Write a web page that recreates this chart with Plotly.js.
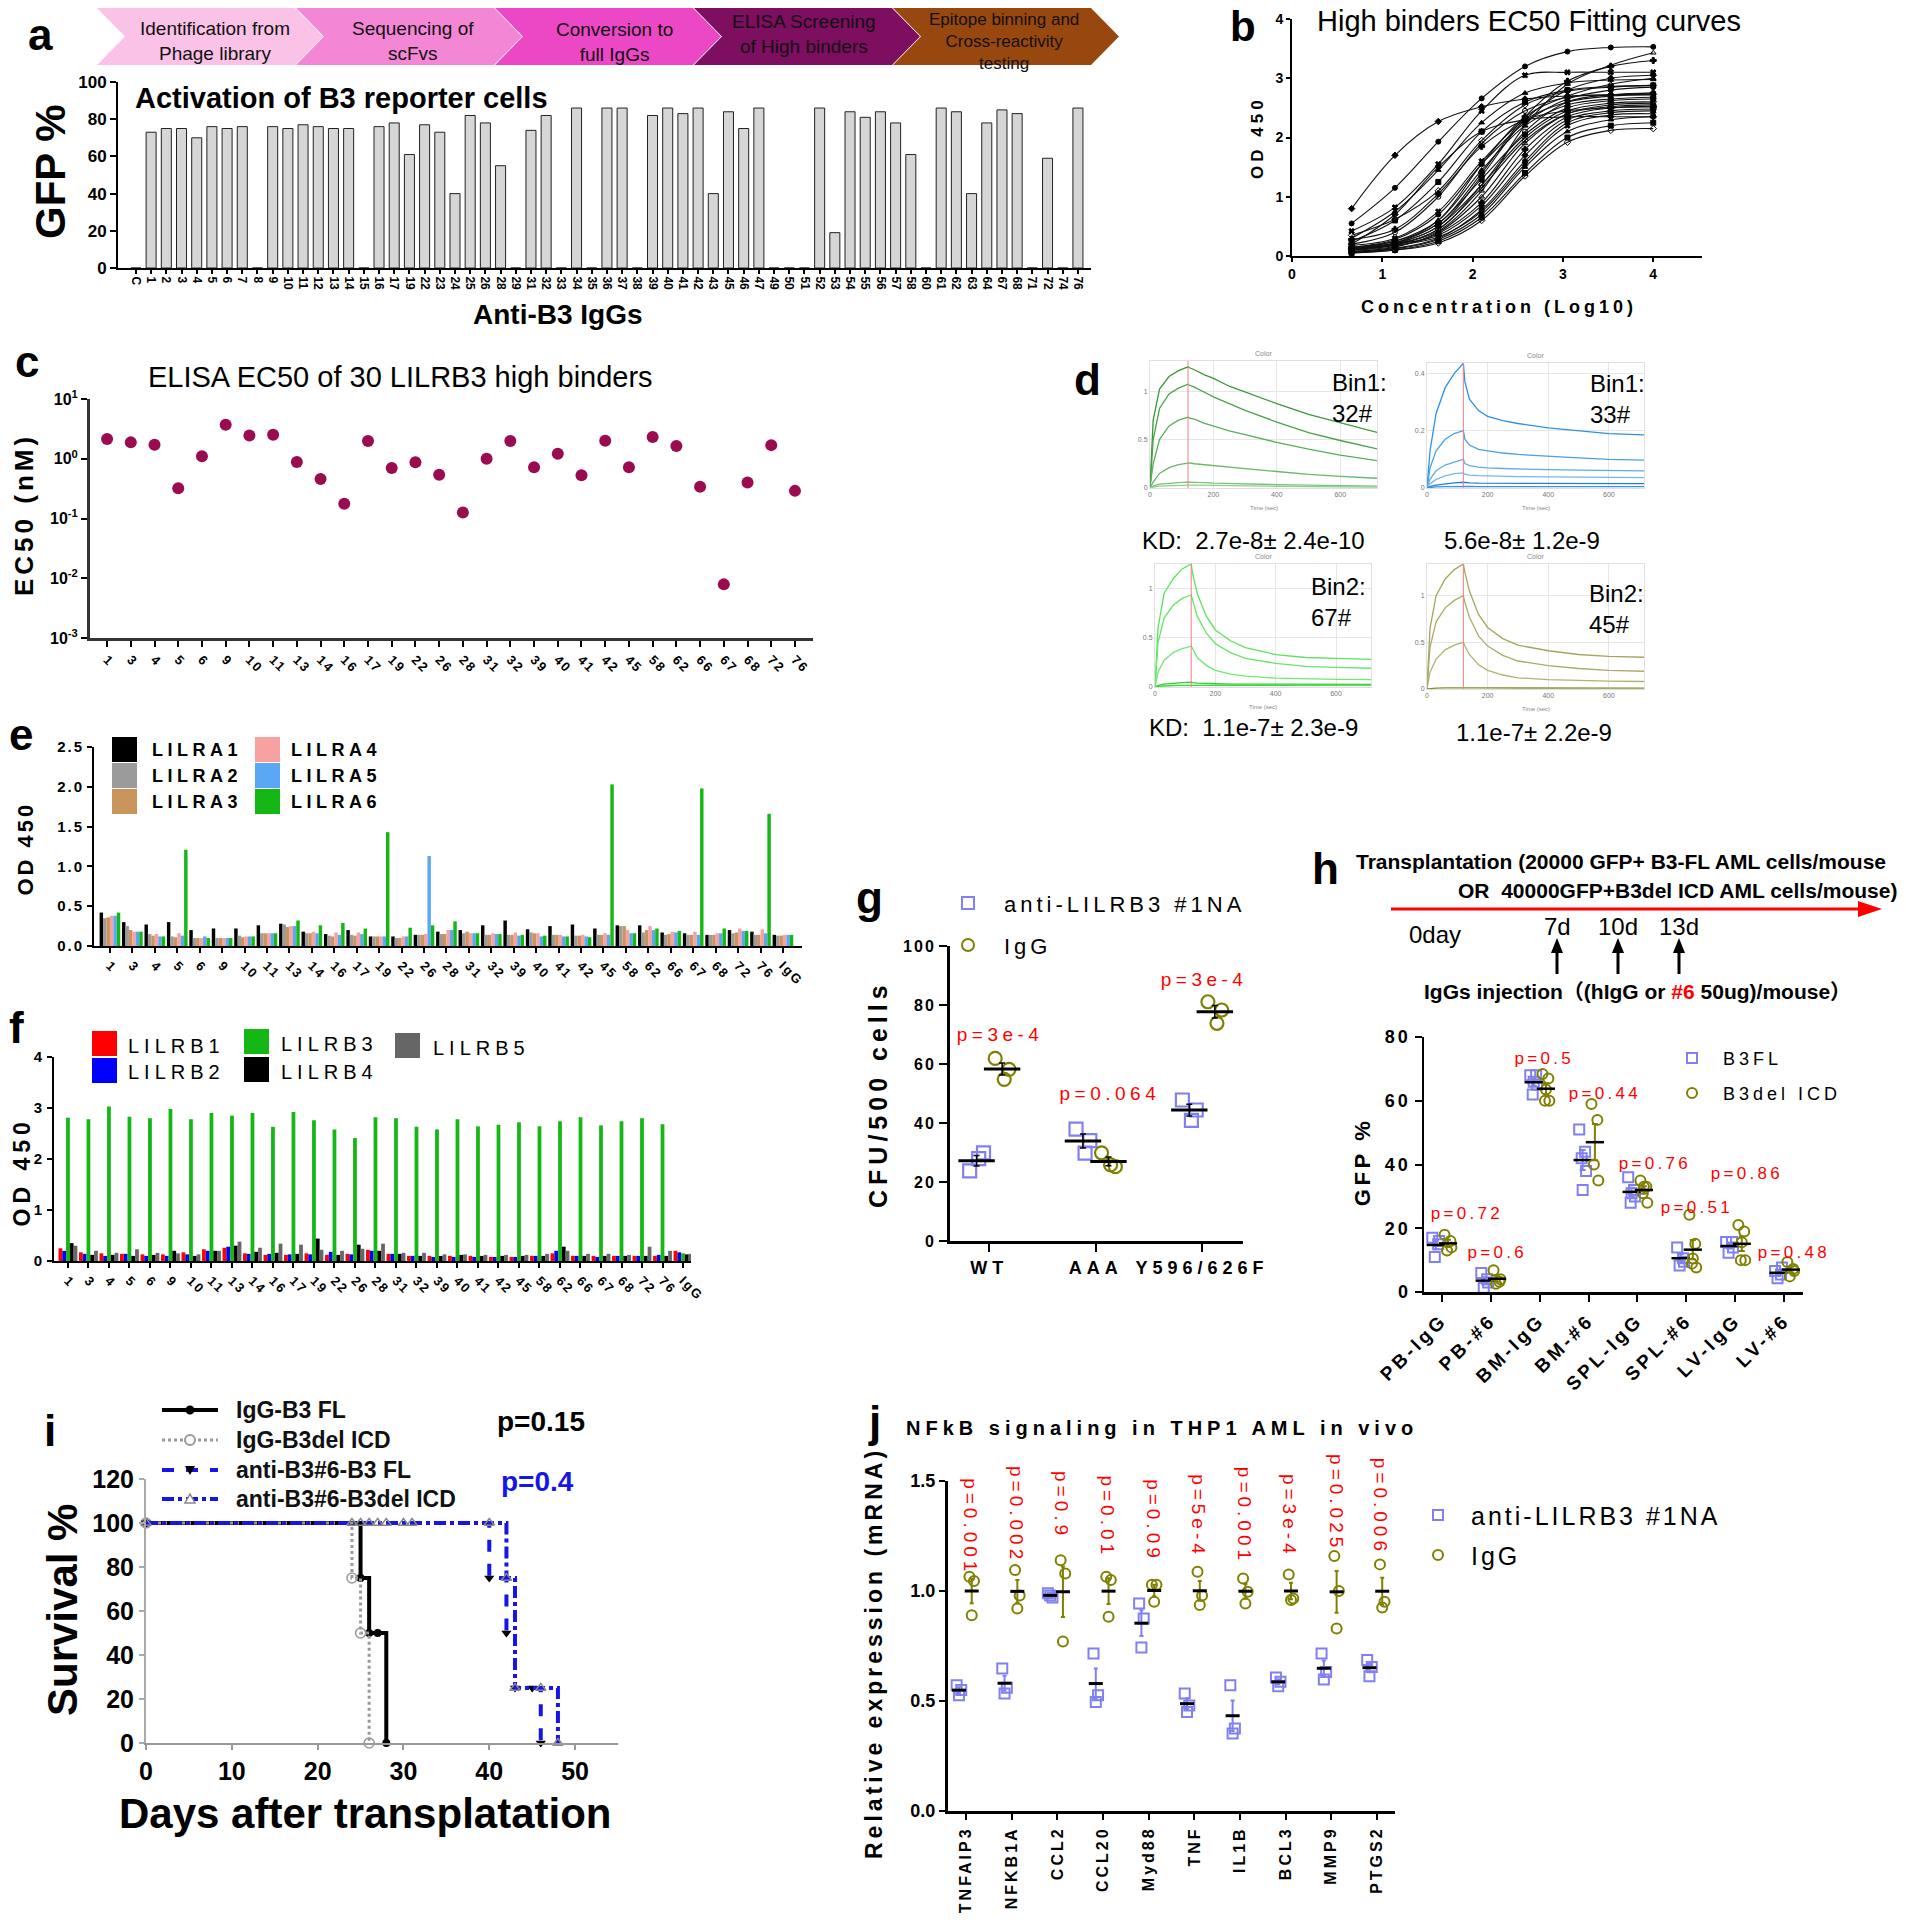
<!DOCTYPE html>
<html><head><meta charset="utf-8">
<script src="https://cdn.plot.ly/plotly-3.0.1.min.js"></script>
<style>html,body{margin:0;padding:0;background:#fff}#chart{width:1906px;height:1920px}</style>
</head><body><div id="chart"></div>
<script>
// ================= DATA =================
// panel a
const aLabels = ['C','1','2','3','4','5','6','7','8','9','10','11','12','13','14','15','16','17','19','22','23','24','25','26','28','29','31','32','33','34','35','36','37','38','39','40','41','42','43','45','46','47','49','50','51','52','53','54','55','56','57','58','60','61','62','63','64','67','68','71','72','74','76'];
const aGFP = [0,73,75,75,70,76,75,76,0,76,75,77,76,75,75,0,76,78,61,77,73,40,82,78,55,0,74,82,0,86,0,86,86,0,82,86,83,86,40,84,75,86,0,0,0,86,19,84,81,84,78,61,0,86,84,40,78,85,83,0,59,0,86];
const aSteps = ['Identification from<br>Phage library','Sequencing of<br>scFvs','Conversion to<br>full IgGs','ELISA Screening<br>of High binders','Epitope binning and<br>Cross-reactivity<br>testing'];

// panel b
const bConc = [0.66,1.14,1.62,2.10,2.58,3.05,3.53,4.00];
const bOD = [
 [0.80,1.70,2.27,2.52,2.65,2.70,2.72,2.73],
 [0.55,1.15,1.93,2.66,3.20,3.45,3.52,3.53],
 [0.42,0.82,1.55,2.45,3.05,3.10,3.10,3.10],
 [0.30,0.75,1.45,2.25,2.75,2.92,2.97,2.98],
 [0.25,0.60,1.25,2.10,2.60,2.80,2.86,2.88],
 [0.35,0.62,1.10,1.95,2.55,2.78,2.85,2.88],
 [0.20,0.40,1.00,1.90,2.45,2.68,2.72,2.75],
 [0.10,0.20,0.42,1.10,2.20,2.90,3.22,3.43],
 [0.15,0.25,0.55,1.40,2.35,2.95,3.20,3.30],
 [0.12,0.22,0.50,1.35,2.30,2.80,3.00,3.05],
 [0.15,0.28,0.70,1.55,2.25,2.65,2.80,2.85],
 [0.18,0.30,0.75,1.60,2.30,2.60,2.70,2.72],
 [0.14,0.25,0.60,1.45,2.20,2.55,2.65,2.68],
 [0.16,0.22,0.55,1.30,2.05,2.50,2.62,2.65],
 [0.10,0.20,0.50,1.20,2.00,2.45,2.58,2.60],
 [0.12,0.18,0.45,1.15,1.95,2.40,2.52,2.55],
 [0.08,0.15,0.40,1.00,1.90,2.40,2.55,2.58],
 [0.10,0.16,0.38,0.90,1.80,2.35,2.50,2.52],
 [0.12,0.20,0.35,0.85,1.70,2.30,2.45,2.48],
 [0.07,0.13,0.30,0.78,1.60,2.25,2.42,2.45],
 [0.10,0.18,0.32,0.75,1.55,2.20,2.38,2.40],
 [0.06,0.12,0.28,0.70,1.50,2.10,2.30,2.35],
 [0.05,0.10,0.25,0.65,1.40,2.00,2.20,2.25],
 [0.05,0.10,0.22,0.60,1.35,1.92,2.12,2.15],
 [0.13,0.20,0.45,1.20,2.10,2.60,2.72,2.75],
 [0.15,0.22,0.60,1.55,2.35,2.70,2.90,3.00],
 [0.28,0.45,1.05,1.85,2.30,2.45,2.50,2.52],
 [0.20,0.70,1.50,2.10,2.30,2.35,2.35,2.35]
];

// panel c
const cClones = ['1','3','4','5','6','9','10','11','13','14','16','17','19','22','26','28','31','32','39','40','41','42','45','58','62','66','67','68','72','76'];
const cEC50 = [2.14,1.88,1.72,0.32,1.10,3.70,2.46,2.53,0.88,0.46,0.176,1.98,0.70,0.87,0.54,0.126,1.00,1.98,0.72,1.21,0.53,2.00,0.72,2.31,1.63,0.34,0.0079,0.40,1.69,0.29];

// panel d (sensorgrams, response vs time)
const dTime = [0,10,30,60,90,120,125,140,170,200,250,300,400,500,600,720];
const d32 = [
 [0,0.70,1.02,1.15,1.21,1.25,1.24,1.22,1.17,1.13,1.05,0.99,0.87,0.76,0.67,0.57],
 [0,0.50,0.82,0.97,1.03,1.07,1.06,1.04,0.99,0.94,0.87,0.80,0.68,0.57,0.49,0.40],
 [0,0.25,0.50,0.64,0.70,0.73,0.72,0.71,0.67,0.64,0.59,0.55,0.47,0.40,0.34,0.28],
 [0,0.06,0.15,0.21,0.24,0.26,0.26,0.25,0.24,0.23,0.21,0.20,0.17,0.14,0.12,0.10],
 [0,0.02,0.04,0.05,0.055,0.06,0.06,0.058,0.055,0.05,0.045,0.04,0.035,0.03,0.025,0.02],
 [0,0.01,0.02,0.025,0.028,0.03,0.03,0.03,0.028,0.025,0.022,0.02,0.018,0.015,0.012,0.01]
];
const d33 = [
 [0,0.13,0.26,0.35,0.40,0.435,0.37,0.31,0.27,0.25,0.235,0.225,0.21,0.20,0.19,0.185],
 [0,0.07,0.13,0.17,0.19,0.20,0.17,0.15,0.135,0.13,0.122,0.117,0.11,0.105,0.10,0.097],
 [0,0.03,0.06,0.08,0.09,0.10,0.085,0.078,0.073,0.07,0.068,0.066,0.064,0.062,0.061,0.06],
 [0,0.015,0.03,0.042,0.05,0.053,0.048,0.045,0.043,0.042,0.041,0.04,0.039,0.038,0.037,0.036],
 [0,0.005,0.01,0.015,0.018,0.02,0.019,0.018,0.017,0.017,0.016,0.016,0.015,0.015,0.015,0.015],
 [0,0.002,0.004,0.005,0.006,0.006,0.006,0.006,0.005,0.005,0.005,0.005,0.005,0.005,0.005,0.005]
];
const d67 = [
 [0,0.60,0.95,1.10,1.20,1.25,1.15,0.95,0.72,0.58,0.47,0.40,0.33,0.30,0.29,0.28],
 [0,0.45,0.70,0.83,0.90,0.935,0.88,0.72,0.55,0.44,0.35,0.29,0.24,0.21,0.20,0.19],
 [0,0.15,0.27,0.35,0.39,0.415,0.39,0.30,0.22,0.17,0.13,0.11,0.09,0.08,0.077,0.075],
 [0,0.015,0.03,0.04,0.045,0.05,0.045,0.04,0.035,0.033,0.03,0.03,0.028,0.028,0.027,0.027],
 [0,0.005,0.01,0.015,0.018,0.02,0.018,0.017,0.016,0.016,0.016,0.017,0.018,0.019,0.02,0.02]
];
const d45 = [
 [0,0.65,1.00,1.18,1.28,1.34,1.25,1.05,0.80,0.66,0.54,0.47,0.41,0.37,0.35,0.34],
 [0,0.45,0.72,0.87,0.95,1.00,0.93,0.77,0.57,0.46,0.36,0.30,0.25,0.22,0.20,0.19],
 [0,0.18,0.32,0.42,0.47,0.50,0.46,0.37,0.26,0.20,0.15,0.12,0.10,0.09,0.085,0.08],
 [0,0.005,0.01,0.012,0.014,0.015,0.013,0.012,0.011,0.011,0.01,0.01,0.01,0.01,0.01,0.01]
];
const dBins = ['Bin1:<br>32#','Bin1:<br>33#','Bin2:<br>67#','Bin2:<br>45#'];
const dKD = ['KD:  2.7e-8± 2.4e-10','5.6e-8± 1.2e-9','KD:  1.1e-7± 2.3e-9','1.1e-7± 2.2e-9'];

// panel e
const efClones = ['1','3','4','5','6','9','10','11','13','14','16','17','19','22','26','28','31','32','39','40','41','42','45','58','62','66','67','68','72','76','IgG'];
const eNames = ['LILRA1','LILRA2','LILRA3','LILRA4','LILRA5','LILRA6'];
const eLILRA1 = [0.42,0.30,0.27,0.30,0.20,0.22,0.22,0.26,0.28,0.18,0.15,0.20,0.12,0.12,0.14,0.18,0.20,0.26,0.32,0.21,0.25,0.27,0.22,0.26,0.26,0.17,0.16,0.14,0.20,0.18,0.14];
const eLILRA2 = [0.35,0.25,0.15,0.12,0.10,0.10,0.13,0.16,0.27,0.16,0.13,0.14,0.12,0.10,0.14,0.15,0.16,0.14,0.14,0.17,0.14,0.13,0.14,0.25,0.17,0.14,0.14,0.14,0.16,0.14,0.13];
const eLILRA3 = [0.36,0.20,0.13,0.11,0.10,0.10,0.11,0.16,0.24,0.16,0.12,0.13,0.12,0.10,0.14,0.15,0.18,0.14,0.14,0.16,0.14,0.13,0.14,0.25,0.20,0.15,0.14,0.14,0.17,0.14,0.13];
const eLILRA4 = [0.38,0.18,0.15,0.16,0.10,0.10,0.12,0.16,0.25,0.18,0.17,0.17,0.12,0.12,0.15,0.20,0.16,0.16,0.17,0.16,0.14,0.14,0.16,0.20,0.25,0.18,0.18,0.16,0.22,0.21,0.14];
const eLILRA5 = [0.38,0.18,0.12,0.13,0.12,0.10,0.12,0.16,0.25,0.16,0.14,0.15,0.12,0.12,1.13,0.20,0.16,0.15,0.13,0.12,0.12,0.12,0.14,0.16,0.20,0.17,0.14,0.16,0.19,0.16,0.14];
const eLILRA6 = [0.42,0.18,0.12,1.21,0.10,0.10,0.12,0.16,0.32,0.26,0.29,0.22,1.43,0.23,0.26,0.31,0.16,0.15,0.14,0.13,0.12,0.11,2.03,0.16,0.22,0.19,1.98,0.22,0.19,1.66,0.14];

// panel f
const fNames = ['LILRB1','LILRB2','LILRB3','LILRB4','LILRB5'];
const fLILRB1 = [0.25,0.17,0.15,0.14,0.13,0.13,0.17,0.23,0.26,0.15,0.12,0.12,0.15,0.12,0.14,0.22,0.14,0.10,0.10,0.10,0.10,0.08,0.08,0.10,0.15,0.10,0.10,0.10,0.10,0.10,0.20];
const fLILRB2 = [0.20,0.14,0.10,0.14,0.10,0.10,0.13,0.20,0.28,0.14,0.14,0.13,0.13,0.18,0.13,0.20,0.14,0.10,0.08,0.08,0.08,0.08,0.08,0.10,0.20,0.10,0.08,0.10,0.10,0.12,0.17];
const fLILRB3 = [2.81,2.78,3.03,2.83,2.80,2.98,2.78,2.90,2.85,2.90,2.63,2.92,2.76,2.58,2.41,2.82,2.80,2.63,2.58,2.78,2.64,2.67,2.72,2.64,2.74,2.82,2.66,2.74,2.80,2.68,0.15];
const fLILRB4 = [0.35,0.12,0.12,0.10,0.12,0.20,0.10,0.20,0.30,0.18,0.16,0.14,0.44,0.12,0.32,0.20,0.14,0.10,0.10,0.12,0.10,0.10,0.10,0.10,0.28,0.10,0.10,0.10,0.10,0.10,0.13];
const fLILRB5 = [0.30,0.20,0.16,0.23,0.16,0.15,0.13,0.20,0.38,0.26,0.34,0.32,0.22,0.20,0.24,0.34,0.16,0.16,0.13,0.13,0.12,0.12,0.12,0.14,0.20,0.14,0.14,0.12,0.28,0.20,0.14];

// panel g
const gGroups = ['WT','AAA','Y596/626F'];
const gAnti = [[23.8,29.9,27.9],[37.9,34.0,29.8],[47.8,44.4,40.9]];
const gIgG  = [[61.9,58.2,54.8],[29.9,25.2,25.8],[81.1,78.3,73.8]];
const gP = ['p=3e-4','p=0.064','p=3e-4'];

// panel h
const hGroups = ['PB-IgG','PB-#6','BM-IgG','BM-#6','SPL-IgG','SPL-#6','LV-IgG','LV-#6'];
const hB3FL  = [[17,15,11,16],[6,4,1.3,3],[68,68,62,65,66],[51,44,42,38,32],[36,32,28,30,31],[14,10.6,8.3,9.5],[15.7,15.7,12.3,14],[6.6,5.5,4.3,7.7]];
const hB3del = [[18,16,13,14],[6.8,3.2,2.6,4],[68.4,67,60,60,63.5],[59,54,40,35],[35,33,31,28,33],[24.2,15.1,8.9,7.7,10.5],[21,19,10,10,15.6],[9.4,7.2,4.9,6.6]];
const hP = ['p=0.72','p=0.6','p=0.5','p=0.44','p=0.76','p=0.51','p=0.86','p=0.48'];

// panel i (Kaplan-Meier)
const iNames = ['IgG-B3 FL','IgG-B3del ICD','anti-B3#6-B3 FL','anti-B3#6-B3del ICD'];
const iDays = [[0,25,26,27,28],[0,24,25,26],[0,40,42,43,45,46],[0,24,25,26,27,28,30,31,40,42,43,46,48]];
const iSurv = [[100,75,50,50,0],[100,75,50,0],[100,75,50,25,25,0],[100,100,100,100,100,100,100,100,100,75,25,25,0]];

// panel j
const jGenes = ['TNFAIP3','NFKB1A','CCL2','CCL20','Myd88','TNF','IL1B','BCL3','MMP9','PTGS2'];
const jAnti = [[0.572,0.55,0.526],[0.648,0.56,0.534],[0.99,0.97,0.98],[0.716,0.526,0.496],[0.943,0.875,0.743],[0.534,0.48,0.45],[0.572,0.375,0.352],[0.607,0.587,0.567],[0.716,0.632,0.598],[0.686,0.655,0.613]];
const jIgG  = [[1.065,1.045,0.89],[1.095,0.98,0.92],[1.14,1.08,0.77],[1.065,1.05,0.883],[1.028,1.028,0.951],[1.087,0.98,0.936],[1.057,0.997,0.943],[1.075,0.966,0.959],[1.159,1.0,0.83],[1.121,0.951,0.925]];
const jP = ['p=0.001','p=0.002','p=0.9','p=0.01','p=0.09','p=5e-4','p=0.001','p=3e-4','p=0.025','p=0.006'];

// ================= LAYOUT HELPERS =================
const W = 1906, H = 1920;
const FA = 'Liberation Sans, Arial, sans-serif';
const FN = 'Liberation Sans Narrow, Arial Narrow, Liberation Sans, Arial, sans-serif';
const P = x => x / W, Q = y => 1 - y / H;
const dx = (a, b) => [a / W, b / W];
const dy = (top, bot) => [1 - bot / H, 1 - top / H];
const anns = [], annLS = [], annSide = [], shapes = [];
function ann(text, x, y, size, o) {
  o = o || {};
  const a = {xref:'paper', yref:'paper', x:P(x), y:Q(y), text, showarrow:false,
    xanchor:o.xa || 'center', yanchor:o.ya || 'middle', align:o.align || 'center',
    font:{family:o.family || FA, size, color:o.color || '#000', weight:o.bold ? 'bold' : 'normal'}};
  if (o.angle !== undefined) a.textangle = o.angle;
  anns.push(a); annLS.push(o.ls || 0); annSide.push(o.xa || 'center');
}
function dann(text, xr, yr, x, y, size, o) {
  o = o || {};
  const a = {xref:xr, yref:yr, x, y, text, showarrow:false, xanchor:o.xa || 'center', yanchor:o.ya || 'middle',
    font:{family:o.family || FA, size, color:o.color || '#000', weight:o.bold ? 'bold' : 'normal'}};
  if (o.angle !== undefined) a.textangle = o.angle;
  anns.push(a); annLS.push(o.ls || 0); annSide.push(o.xa || 'center');
}
function pathPx(pts) { return 'M' + pts.map(p => P(p[0]) + ',' + Q(p[1])).join(' L') + ' Z'; }
function rectPx(x0, y0, x1, y1, fill, line) {
  shapes.push({type:'rect', xref:'paper', yref:'paper', x0:P(x0), x1:P(x1), y0:Q(y1), y1:Q(y0),
    fillcolor:fill, line:{color:line || fill, width:line ? 2 : 0}});
}
function circPx(cx, cy, r, color, fill) {
  shapes.push({type:'circle', xref:'paper', yref:'paper', x0:P(cx - r), x1:P(cx + r), y0:Q(cy + r), y1:Q(cy - r),
    fillcolor:fill || 'rgba(0,0,0,0)', line:{color, width:2}});
}
function linePx(x0, y0, x1, y1, color, width, dash) {
  shapes.push({type:'line', xref:'paper', yref:'paper', x0:P(x0), x1:P(x1), y0:Q(y0), y1:Q(y1), line:{color, width, dash:dash || 'solid'}});
}
function triPx(pts, color) { shapes.push({type:'path', xref:'paper', yref:'paper', fillcolor:color, line:{width:0}, path:pathPx(pts)}); }
function axis(domain, extra) {
  return Object.assign({domain, showgrid:false, zeroline:false, showline:true, linecolor:'#000', linewidth:2,
    ticks:'outside', ticklen:6, tickwidth:2, tickcolor:'#000',
    tickfont:{family:FA, size:15, color:'#000', weight:'bold'}}, extra);
}
const mean = a => a.reduce((s, v) => s + v, 0) / a.length;
const sem = a => { const m = mean(a); return Math.sqrt(a.reduce((s, v) => s + (v - m) * (v - m), 0) / (a.length - 1)) / Math.sqrt(a.length); };

const traces = [];
const layout = {width:W, height:H, margin:{l:0, r:0, t:0, b:0}, paper_bgcolor:'#fff', plot_bgcolor:'rgba(0,0,0,0)',
  showlegend:false, barmode:'group', bargap:0.08, bargroupgap:0};

// ================= PANEL A =================
const chevCols = ['#F9C2E6','#F386D5','#EC47C5','#7D0E60','#98470F'];
aSteps.forEach((t, i) => {
  const L = 97 + i * 199;
  shapes.push({type:'path', xref:'paper', yref:'paper', fillcolor:chevCols[i], line:{width:0},
    path:pathPx([[L,8],[L+198,8],[L+226,36.5],[L+198,65],[L,65],[L+28,36.5]])});
});
const chevTxtX = [215, 413, 614, 804, 1004], chevTxtY = [41, 41, 42, 34, 42];
aSteps.forEach((t, i) => ann(t, chevTxtX[i], chevTxtY[i], i === 4 ? 17 : 19, {family:FN, color:'#111'}));
layout.xaxis = axis(dx(118, 1091), {anchor:'y', type:'category', range:[-1.18, 62.86], tickangle:90, ticklen:4,
  tickfont:{family:FA, size:12, color:'#000', weight:'bold'}});
layout.yaxis = axis(dy(82, 268), {anchor:'x', range:[0, 100], dtick:20, tickfont:{family:FA, size:17, color:'#000', weight:'bold'}});
traces.push({type:'bar', x:aLabels, y:aGFP, xaxis:'x', yaxis:'y', width:0.66, marker:{color:'#D6D6D6', line:{color:'#222', width:1}}});
ann('Activation of B3 reporter cells', 133, 98, 29, {xa:'left', family:FN, bold:true});
ann('GFP %', 50, 172, 42, {angle:-90, family:FN, bold:true});
ann('Anti-B3 IgGs', 558, 314, 28, {family:FN, bold:true});

// ================= PANEL B =================
layout.xaxis2 = axis(dx(1292, 1702), {anchor:'y2', range:[0, 4.54], tickvals:[0,1,2,3,4], ticklen:4, tickfont:{family:FA, size:14, color:'#000', weight:'bold'}});
layout.yaxis2 = axis(dy(19, 256), {anchor:'x2', range:[0, 4], dtick:1, ticklen:4, tickfont:{family:FA, size:14, color:'#000', weight:'bold'}});
const bSyms = ['diamond','circle','x','triangle-up','square','diamond-open','circle-open','triangle-up-open','cross'];
bOD.forEach((ys, k) => traces.push({type:'scatter', mode:'lines+markers', x:bConc, y:ys, xaxis:'x2', yaxis:'y2',
  line:{color:'#111', width:1.1, shape:'spline', smoothing:1}, marker:{symbol:bSyms[k % bSyms.length], size:5, color:'#000', line:{color:'#000', width:1}}, cliponaxis:false}));
ann('High binders EC50 Fitting curves', 1315, 21, 29, {xa:'left'});
ann('OD 450', 1258, 140, 17, {angle:-90, bold:true, ls:4});
ann('Concentration (Log10)', 1497, 307, 18, {bold:true, ls:4});

// ================= PANEL C =================
layout.xaxis3 = axis(dx(90, 813), {anchor:'y3', type:'category', range:[-0.72, 29.76], tickangle:45, linewidth:3, linecolor:'#333',
  tickfont:{family:FA, size:13, color:'#000', weight:'bold'}});
layout.yaxis3 = axis(dy(399, 638), {anchor:'x3', type:'log', range:[-3, 1], tickvals:[0.001,0.01,0.1,1,10],
  ticktext:['10<sup>-3</sup>','10<sup>-2</sup>','10<sup>-1</sup>','10<sup>0</sup>','10<sup>1</sup>'], linewidth:3, linecolor:'#333',
  tickfont:{family:FA, size:16, color:'#000', weight:'bold'}});
traces.push({type:'scatter', mode:'markers', x:cClones, y:cEC50, xaxis:'x3', yaxis:'y3', marker:{color:'#9A0B50', size:12}});
ann('ELISA EC50 of 30 LILRB3 high binders', 146, 377, 29, {xa:'left'});
ann('EC50 (nM)', 24, 517, 26, {angle:-90, bold:true, ls:4});

// ================= PANEL D =================
const dBoxes = [[1150,1377,361,488,1.31,[0,0.5,1]],[1427,1644,363,488,0.436,[0,0.2,0.4]],[1155,1371,564,687,1.25,[0,0.5,1]],[1427,1644,564,689,1.34,[0,0.5,1]]];
const dSets = [d32, d33, d67, d45];
const dCols = [['#3C963C','#49A349','#58AE58','#66B866','#78C378','#8FCF8F'],
               ['#2F8FE6','#4A9EEA','#5FAAEE','#74B6F0','#1E7FE0','#3C8FE8'],
               ['#5CE35C','#66E566','#72E872','#29D129','#40DA40'],
               ['#A5A55E','#ABAB68','#B2B274','#8C8C30']];
dBoxes.forEach((b, i) => {
  const xa = 'xaxis' + (4 + i), ya = 'yaxis' + (4 + i), xr = 'x' + (4 + i), yr = 'y' + (4 + i);
  layout[xa] = {domain:dx(b[0], b[1]), anchor:yr, range:[0, 716], tickvals:[0,200,400,600], showgrid:true, gridcolor:'#E6E6E6',
    zeroline:false, showline:true, mirror:true, linecolor:'#E0E0E0', linewidth:1, ticks:'', tickfont:{family:FA, size:7, color:'#777'}};
  layout[ya] = {domain:dy(b[2], b[3]), anchor:xr, range:[0, b[4]], tickvals:b[5], showgrid:true, gridcolor:'#E6E6E6',
    zeroline:false, showline:true, mirror:true, linecolor:'#E0E0E0', linewidth:1, ticks:'', tickfont:{family:FA, size:7, color:'#777'}};
  dSets[i].forEach((ys, k) => traces.push({type:'scatter', mode:'lines', x:dTime, y:ys, xaxis:xr, yaxis:yr,
    line:{color:dCols[i][k % dCols[i].length], width:1.3}}));
  shapes.push({type:'line', xref:xr, yref:yr + ' domain', x0:120, x1:120, y0:0, y1:1, line:{color:'#F08080', width:1}});
  ann('Color', (b[0] + b[1]) / 2, b[2] - 8, 7, {color:'#888'});
  ann('Time (sec)', (b[0] + b[1]) / 2, b[3] + 20, 6, {color:'#888'});
});
ann(dBins[0], 1330, 398, 24, {xa:'left', align:'left'});
ann(dBins[1], 1588, 399, 24, {xa:'left', align:'left'});
ann(dBins[2], 1309, 602, 24, {xa:'left', align:'left'});
ann(dBins[3], 1587, 609, 24, {xa:'left', align:'left'});
ann(dKD[0], 1253, 540, 24);
ann(dKD[1], 1522, 540, 24);
ann(dKD[2], 1253, 727, 24);
ann(dKD[3], 1534, 732, 24);

// ================= PANEL E =================
const eCols = ['#000000','#9B9B9B','#C9955C','#F7A1A1','#5AA7F5','#14B714'];
layout.xaxis8 = axis(dx(94, 802), {anchor:'y8', type:'category', range:[-0.71, 30.85], tickangle:45, ticklen:5,
  tickfont:{family:FA, size:13, color:'#000', weight:'bold'}});
layout.yaxis8 = axis(dy(747, 946), {anchor:'x8', range:[0, 2.5], dtick:0.5, tickformat:'.1f', ticklen:5,
  tickfont:{family:FA, size:15, color:'#000', weight:'bold'}});
[eLILRA1, eLILRA2, eLILRA3, eLILRA4, eLILRA5, eLILRA6].forEach((ys, k) =>
  traces.push({type:'bar', x:efClones, y:ys, name:eNames[k], xaxis:'x8', yaxis:'y8', marker:{color:eCols[k], line:{width:0}}}));
[[112,737],[112,763],[112,789],[255,737],[255,763],[255,789]].forEach((p, k) => {
  rectPx(p[0], p[1], p[0] + 25, p[1] + 25, eCols[k]);
  ann(eNames[k], p[0] + (k < 3 ? 38 : 34), p[1] + 13, 18, {xa:'left', bold:true, ls:4.5});
});
ann('OD 450', 26, 850, 22, {angle:-90, bold:true, ls:3});

// ================= PANEL F =================
const fCols = ['#FF0000','#0000FF','#14B714','#000000','#666666'];
layout.xaxis9 = axis(dx(54, 691), {anchor:'y9', type:'category', range:[-0.68, 30.39], tickangle:45, ticklen:5,
  tickfont:{family:FA, size:13, color:'#000', weight:'bold'}});
layout.yaxis9 = axis(dy(1057, 1261), {anchor:'x9', range:[0, 4], dtick:1, ticklen:5,
  tickfont:{family:FA, size:15, color:'#000', weight:'bold'}});
[fLILRB1, fLILRB2, fLILRB3, fLILRB4, fLILRB5].forEach((ys, k) =>
  traces.push({type:'bar', x:efClones, y:ys, name:fNames[k], xaxis:'x9', yaxis:'y9', marker:{color:fCols[k], line:{width:0}}}));
[[92,1031,126,1046],[92,1058,126,1072],[244,1029,279,1044],[244,1057,279,1072],[395,1033,431,1048]].forEach((p, k) => {
  rectPx(p[0], p[1], p[0] + 25, p[1] + 25, fCols[k]);
  ann(fNames[k], p[2], p[3], 20, {xa:'left', ls:5});
});
ann('OD 450', 22, 1175, 23, {angle:-90, bold:true, ls:5});

// ================= PANEL G =================
const SQ = '#8080F0', OL = '#808000';
layout.xaxis10 = axis(dx(950, 1243), {anchor:'y10', range:[-0.37, 2.385], tickvals:[0,1,2], ticktext:gGroups, ticklen:8, linewidth:3,
  tickfont:{family:FA, size:18, color:'#000', weight:'bold'}});
layout.yaxis10 = axis(dy(946, 1241), {anchor:'x10', range:[0, 100], dtick:20, ticklen:8, linewidth:3,
  tickfont:{family:FA, size:16, color:'#000', weight:'bold'}});
function groupPts(groups, off, jit) {
  const xs = [], ys = [];
  groups.forEach((g, i) => g.forEach((v, k) => { xs.push(i + off + jit[k % jit.length]); ys.push(v); }));
  return [xs, ys];
}
[[gAnti, -0.12, SQ, 'square-open'], [gIgG, 0.12, OL, 'circle-open']].forEach(s => {
  const [xs, ys] = groupPts(s[0], s[1], [-0.065, 0.065, 0.02]);
  traces.push({type:'scatter', mode:'markers', x:xs, y:ys, xaxis:'x10', yaxis:'y10', marker:{symbol:s[3], size:13, color:s[2], line:{width:2.2, color:s[2]}}});
  traces.push({type:'scatter', mode:'markers', x:s[0].map((g, i) => i + s[1]), y:s[0].map(mean), xaxis:'x10', yaxis:'y10',
    marker:{symbol:'line-ew', size:26, line:{width:3, color:'#000'}},
    error_y:{type:'data', array:s[0].map(sem), color:'#000', thickness:1.5, width:3}});
});
const gPpos = [[0.08, 70], [1.12, 50], [2.0, 88.7]];
gP.forEach((t, i) => dann(t, 'x10', 'y10', gPpos[i][0], gPpos[i][1], 19, {color:'#FF0000', ls:4.5}));
rectPx(962, 897, 974, 909, 'rgba(0,0,0,0)', SQ);
circPx(968, 945, 6, OL);
ann('anti-LILRB3 #1NA', 1002, 904, 22, {xa:'left', ls:4});
ann('IgG', 1002, 946, 22, {xa:'left', ls:4});
ann('CFU/500 cells', 878, 1097, 25, {angle:-90, bold:true, ls:5});

// ================= PANEL H =================
ann('Transplantation (20000 GFP+ B3-FL AML cells/mouse', 1354, 861, 21, {xa:'left', bold:true});
ann('OR  40000GFP+B3del ICD AML cells/mouse)', 1456, 890, 21, {xa:'left', bold:true});
linePx(1391, 909, 1862, 909, '#FF0000', 3);
triPx([[1858, 901], [1882, 909], [1858, 917]], '#FF0000');
[1557, 1618, 1679].forEach(x => { linePx(x, 974, x, 950, '#000', 3); triPx([[x - 6, 953], [x, 938], [x + 6, 953]], '#000'); });
ann('0day', 1407, 934, 24, {xa:'left'});
ann('7d', 1557, 926, 24); ann('10d', 1618, 926, 24); ann('13d', 1679, 926, 24);
ann('IgGs injection（(hIgG or <span style="color:#FF0000">#6</span> 50ug)/mouse）', 1422, 991, 21, {xa:'left', bold:true,
  family:'Liberation Sans, Noto Sans CJK SC, sans-serif'});
layout.xaxis11 = axis(dx(1424, 1803), {anchor:'y11', range:[-0.36, 7.38], tickvals:[0,1,2,3,4,5,6,7], ticktext:hGroups, tickangle:-45,
  ticklen:7, linewidth:2.5, tickfont:{family:FA, size:19, color:'#000', weight:'bold'}});
layout.yaxis11 = axis(dy(1037, 1292), {anchor:'x11', range:[0, 80], dtick:20, ticklen:7, linewidth:2.5,
  tickfont:{family:FA, size:18, color:'#000', weight:'bold'}});
[[hB3FL, -0.12, SQ, 'square-open'], [hB3del, 0.13, OL, 'circle-open']].forEach(s => {
  const [xs, ys] = groupPts(s[0], s[1], [-0.07, 0.05, -0.02, 0.07, 0.0]);
  traces.push({type:'scatter', mode:'markers', x:xs, y:ys, xaxis:'x11', yaxis:'y11', marker:{symbol:s[3], size:10, color:s[2], line:{width:2, color:s[2]}}});
  traces.push({type:'scatter', mode:'markers', x:s[0].map((g, i) => i + s[1]), y:s[0].map(mean), xaxis:'x11', yaxis:'y11',
    marker:{symbol:'line-ew', size:13, line:{width:2.5, color:'#000'}},
    error_y:{type:'data', array:s[0].map(sem), color:s[2], thickness:2, width:3}});
});
const hPpos = [[0.48,24.6],[1.11,12.3],[2.07,73.2],[3.3,62.3],[4.31,40.4],[5.17,26.5],[6.2,37.3],[7.15,12.5]];
hP.forEach((t, i) => dann(t, 'x11', 'y11', hPpos[i][0], hPpos[i][1], 17, {color:'#FF0000', ls:3.3}));
rectPx(1687, 1053, 1697, 1063, 'rgba(0,0,0,0)', SQ);
circPx(1692, 1093, 5, OL);
ann('B3FL', 1721, 1059, 18, {xa:'left', ls:4});
ann('B3del ICD', 1721, 1094, 18, {xa:'left', ls:4});
ann('GFP %', 1362, 1164, 22, {angle:-90, bold:true, ls:3.6});

// ================= PANEL I =================
layout.xaxis12 = axis(dx(146, 618), {anchor:'y12', range:[0, 55], tickvals:[0,10,20,30,40,50], ticklen:5, linecolor:'#999', tickcolor:'#999',
  tickfont:{family:FA, size:25, color:'#000', weight:'bold'}});
layout.yaxis12 = axis(dy(1479, 1743), {anchor:'x12', range:[0, 120], dtick:20, ticklen:5, linecolor:'#aaa', tickcolor:'#aaa',
  tickfont:{family:FA, size:25, color:'#000', weight:'bold'}});
const iStyles = [
  {line:{color:'#000', width:4, shape:'hv'}, marker:{symbol:'circle', size:8, color:'#000'}},
  {line:{color:'#999', width:3, shape:'hv', dash:'dot'}, marker:{symbol:'circle-open', size:10, color:'#999', line:{width:1.5, color:'#888'}}},
  {line:{color:'#1515E8', width:4, shape:'hv', dash:'dash'}, marker:{symbol:'triangle-down', size:9, color:'#000'}},
  {line:{color:'#1515E8', width:4, shape:'hv', dash:'dashdot'}, marker:{symbol:'triangle-up-open', size:9, color:'#888', line:{width:1.5, color:'#888'}}}
];
[0, 1, 2, 3].forEach(k => traces.push(Object.assign({type:'scatter', mode:'lines+markers', x:iDays[k], y:iSurv[k], name:iNames[k],
  xaxis:'x12', yaxis:'y12', cliponaxis:false}, iStyles[k])));
const iRows = [1410, 1440, 1470, 1499];
linePx(162, iRows[0], 218, iRows[0], '#000', 4);
circPx(190, iRows[0], 3.5, '#000', '#000');
linePx(162, iRows[1], 218, iRows[1], '#999', 3, 'dot');
circPx(190, iRows[1], 5, '#999', '#fff');
linePx(162, iRows[2], 218, iRows[2], '#1515E8', 4, 'dash');
triPx([[185, iRows[2] - 4], [195, iRows[2] - 4], [190, iRows[2] + 5]], '#000');
linePx(162, iRows[3], 218, iRows[3], '#1515E8', 4, 'dashdot');
shapes.push({type:'path', xref:'paper', yref:'paper', fillcolor:'#fff', line:{width:1.5, color:'#888'}, path:pathPx([[185,iRows[3]+4],[195,iRows[3]+4],[190,iRows[3]-5]])});
iNames.forEach((t, k) => ann(t, 234, iRows[k], 23, {xa:'left', bold:true, color:'#111'}));
ann('p=0.15', 541, 1421, 28, {bold:true});
ann('p=0.4', 537, 1481, 28, {bold:true, color:'#1515E8'});
ann('Survival %', 62, 1610, 42, {angle:-90, bold:true});
ann('Days after transplatation', 365, 1813, 42, {bold:true});

// ================= PANEL J =================
layout.xaxis13 = axis(dx(948, 1395), {anchor:'y13', range:[-0.4, 9.4], tickvals:[0,1,2,3,4,5,6,7,8,9], ticktext:jGenes, tickangle:-90,
  ticklen:6, linewidth:3, tickfont:{family:FA, size:16, color:'#000', weight:'bold'}});
layout.yaxis13 = axis(dy(1481, 1811), {anchor:'x13', range:[0, 1.5], dtick:0.5, tickformat:'.1f', ticklen:6, linewidth:3,
  tickfont:{family:FA, size:18, color:'#000', weight:'bold'}});
[[jAnti, -0.16, SQ, 'square-open'], [jIgG, 0.12, OL, 'circle-open']].forEach(s => {
  const [xs, ys] = groupPts(s[0], s[1], [-0.05, 0.05, 0.0]);
  traces.push({type:'scatter', mode:'markers', x:xs, y:ys, xaxis:'x13', yaxis:'y13', marker:{symbol:s[3], size:10, color:s[2], line:{width:2, color:s[2]}}});
  traces.push({type:'scatter', mode:'markers', x:s[0].map((g, i) => i + s[1]), y:s[0].map(mean), xaxis:'x13', yaxis:'y13',
    marker:{symbol:'line-ew', size:10, line:{width:3, color:'#000'}},
    error_y:{type:'data', array:s[0].map(sem), color:s[2], thickness:2, width:2}});
});
const jPy = [1.30, 1.357, 1.40, 1.345, 1.33, 1.35, 1.353, 1.35, 1.41, 1.395];
jP.forEach((t, i) => dann(t, 'x13', 'y13', i + 0.1, jPy[i], 19, {color:'#FF0000', angle:90, ls:4}));
rectPx(1433, 1510, 1443, 1520, 'rgba(0,0,0,0)', SQ);
circPx(1438, 1555, 5, OL);
ann('anti-LILRB3 #1NA', 1469, 1516, 25, {xa:'left', ls:3});
ann('IgG', 1469, 1556, 25, {xa:'left', ls:3});
ann('NFkB signaling in THP1 AML in vivo', 904, 1428, 20, {xa:'left', bold:true, ls:5});
ann('Relative expression (mRNA)', 874, 1655, 23, {angle:-90, bold:true, ls:4});

// ================= PANEL LETTERS =================
[['a',40,35,44],['b',1243,26,42],['c',27,362,44],['d',1087,379,44],['e',21,734,44],['f',16,1027,44],['g',869,897,44],['h',1325,868,44],['i',50,1430,44],['j',874,1421,44]]
  .forEach(l => ann(l[0], l[1], l[2], l[3], {bold:true}));

layout.annotations = anns;
layout.shapes = shapes;

const tickLS = [['.subplot.x10y10 .xaxislayer-above text', 5], ['.subplot.x10y10 .yaxislayer-above text', 2],
  ['.subplot.x11y11 .xaxislayer-above text', 3.5], ['.subplot.x11y11 .yaxislayer-above text', 3],
  ['.subplot.x13y13 .xaxislayer-above text', 3], ['.subplot.x8y8 .xaxislayer-above text', 2], ['.subplot.x9y9 .xaxislayer-above text', 2],
  ['.subplot.x3y3 .xaxislayer-above text', 2], ['.subplot.x8y8 .yaxislayer-above text', 2], ['.subplot.x9y9 .yaxislayer-above text', 2]];

Plotly.newPlot('chart', traces, layout, {staticPlot:true}).then(gd => {
  gd.querySelectorAll('g.annotation').forEach(g => {
    const i = +g.getAttribute('data-index');
    const ls = annLS[i];
    if (!ls) return;
    g.querySelectorAll('text').forEach(t => {
      t.style.letterSpacing = ls + 'px';
      const n = t.textContent.length;
      const shift = annSide[i] === 'left' ? n * ls / 2 : annSide[i] === 'right' ? -n * ls / 2 : ls / 2;
      const nodes = [t].concat(Array.from(t.querySelectorAll('tspan[x]')));
      nodes.forEach(el => { const x = parseFloat(el.getAttribute('x')); if (!isNaN(x)) el.setAttribute('x', x + shift); });
    });
  });
  tickLS.forEach(([sel, ls]) => gd.querySelectorAll(sel).forEach(t => { t.style.letterSpacing = ls + 'px'; }));
});
</script></body></html>
